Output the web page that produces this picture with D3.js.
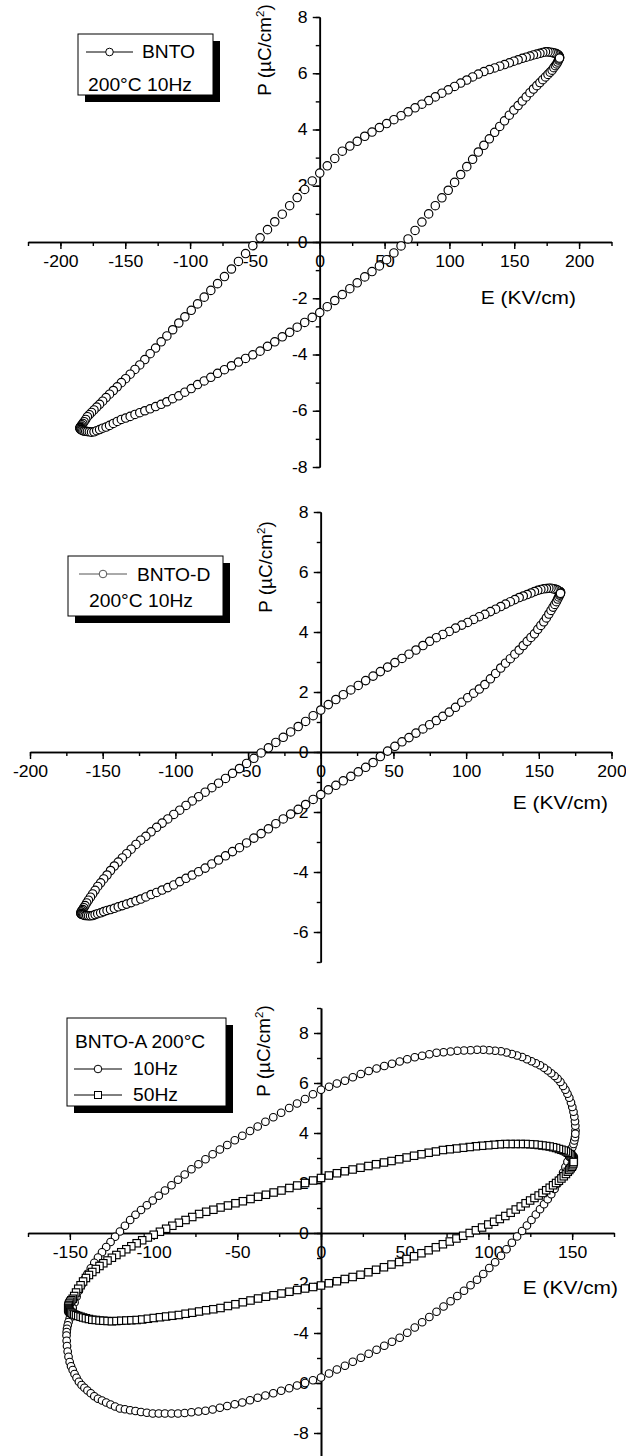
<!DOCTYPE html>
<html>
<head>
<meta charset="utf-8">
<script src="https://cdn.jsdelivr.net/npm/d3@7"></script>
<style>
  body { margin: 0; background: #fff; }
  text { font-family: "Liberation Sans", Arial, Helvetica, sans-serif; fill: #000; }
</style>
</head>
<body>
<svg id="chart" width="626" height="1456"></svg>
<script>
// ---- data (E in kV/cm, P in uC/cm2) ----
// panel 1: BNTO, 200C 10Hz
var bntoUpE = [185.0,184.9,184.6,184.2,183.5,182.7,181.7,180.5,179.2,177.7,176.0,174.1,172.0,169.8,167.4,164.8,162.1,159.2,156.2,153.0,
  149.7,146.2,142.5,138.8,134.9,130.8,126.6,122.3,117.9,113.4,108.7,104.0,99.1,94.2,89.1,84.0,78.8,73.5,68.1,62.7,
  57.2,51.6,46.0,40.3,34.7,28.9,23.2,17.4,11.6,5.8,0,-5.8,-11.6,-17.4,-23.2,-28.9,-34.7,-40.3,-46.0,-51.6,
  -57.2,-62.7,-68.1,-73.5,-78.8,-84.0,-89.1,-94.2,-99.1,-104.0,-108.7,-113.4,-117.9,-122.3,-126.6,-130.8,-134.9,-138.8,-142.5,-146.2,
  -149.7,-153.0,-156.2,-159.2,-162.1,-164.8,-167.4,-169.8,-172.0,-174.1,-176.0,-177.7,-179.2,-180.5,-181.7,-182.7,-183.5,-184.2,-184.6,-184.9];
var bntoUpP = [6.55,6.58,6.61,6.64,6.67,6.69,6.71,6.72,6.74,6.75,6.76,6.76,6.74,6.71,6.68,6.65,6.61,6.57,6.53,6.48,
  6.43,6.37,6.31,6.25,6.19,6.13,6.06,5.97,5.87,5.76,5.65,5.53,5.41,5.29,5.16,5.03,4.90,4.77,4.63,4.49,
  4.35,4.21,4.07,3.91,3.76,3.58,3.41,3.23,2.97,2.71,2.45,2.17,1.87,1.58,1.29,0.99,0.72,0.44,0.15,-0.13,
  -0.41,-0.69,-0.96,-1.23,-1.48,-1.72,-1.96,-2.20,-2.43,-2.66,-2.88,-3.12,-3.34,-3.55,-3.77,-3.97,-4.18,-4.37,-4.53,-4.70,
  -4.86,-5.00,-5.15,-5.28,-5.41,-5.53,-5.66,-5.77,-5.87,-5.97,-6.06,-6.14,-6.21,-6.31,-6.39,-6.45,-6.50,-6.55,-6.58,-6.60];
var bntoLoE = [-185.0,-184.9,-184.6,-184.2,-183.5,-182.7,-181.7,-180.5,-179.2,-177.7,-176.0,-174.1,-172.0,-169.8,-167.4,-164.8,-162.1,-159.2,-156.2,-153.0,
  -149.7,-146.2,-142.5,-138.8,-134.9,-130.8,-126.6,-122.3,-117.9,-113.4,-108.7,-104.0,-99.1,-94.2,-89.1,-84.0,-78.8,-73.5,-68.1,-62.7,
  -57.2,-51.6,-46.0,-40.3,-34.7,-28.9,-23.2,-17.4,-11.6,-5.8,0,5.8,11.6,17.4,23.2,28.9,34.7,40.3,46.0,51.6,
  57.2,62.7,68.1,73.5,78.8,84.0,89.1,94.2,99.1,104.0,108.7,113.4,117.9,122.3,126.6,130.8,134.9,138.8,142.5,146.2,
  149.7,153.0,156.2,159.2,162.1,164.8,167.4,169.8,172.0,174.1,176.0,177.7,179.2,180.5,181.7,182.7,183.5,184.2,184.6,184.9];
var bntoLoP = [-6.62,-6.63,-6.65,-6.67,-6.69,-6.71,-6.72,-6.73,-6.74,-6.75,-6.76,-6.75,-6.71,-6.67,-6.62,-6.58,-6.52,-6.45,-6.38,-6.31,
  -6.26,-6.20,-6.13,-6.07,-6.00,-5.93,-5.85,-5.77,-5.68,-5.57,-5.47,-5.34,-5.21,-5.07,-4.94,-4.81,-4.67,-4.54,-4.40,-4.27,
  -4.14,-4.01,-3.88,-3.71,-3.55,-3.37,-3.21,-3.03,-2.86,-2.68,-2.51,-2.30,-2.08,-1.87,-1.66,-1.45,-1.24,-1.05,-0.85,-0.63,
  -0.39,-0.14,0.11,0.41,0.71,1.00,1.29,1.57,1.84,2.12,2.40,2.68,2.94,3.20,3.44,3.67,3.90,4.11,4.31,4.51,
  4.69,4.85,5.01,5.16,5.31,5.44,5.56,5.67,5.77,5.87,5.96,6.04,6.11,6.20,6.27,6.33,6.40,6.47,6.51,6.54];

// panel 2: BNTO-D, 200C 10Hz
var bntoDUpE = [165.0,164.9,164.7,164.3,163.7,163.0,162.1,161.0,159.8,158.4,156.9,155.2,153.4,151.4,149.3,147.0,144.6,142.0,139.3,136.5,
  133.5,130.4,127.1,123.8,120.3,116.7,112.9,109.1,105.2,101.1,97.0,92.7,88.4,84.0,79.5,74.9,70.3,65.5,60.7,55.9,
  51.0,46.0,41.0,36.0,30.9,25.8,20.7,15.5,10.4,5.2,0,-5.2,-10.4,-15.5,-20.7,-25.8,-30.9,-36.0,-41.0,-46.0,
  -51.0,-55.9,-60.7,-65.5,-70.3,-74.9,-79.5,-84.0,-88.4,-92.7,-97.0,-101.1,-105.2,-109.1,-112.9,-116.7,-120.3,-123.8,-127.1,-130.4,
  -133.5,-136.5,-139.3,-142.0,-144.6,-147.0,-149.3,-151.4,-153.4,-155.2,-156.9,-158.4,-159.8,-161.0,-162.1,-163.0,-163.7,-164.3,-164.7,-164.9];
var bntoDUpP = [5.32,5.33,5.34,5.35,5.37,5.39,5.42,5.43,5.44,5.46,5.46,5.45,5.44,5.42,5.39,5.35,5.30,5.25,5.20,5.15,
  5.08,5.01,4.93,4.85,4.76,4.68,4.59,4.51,4.42,4.32,4.23,4.13,4.02,3.92,3.81,3.69,3.55,3.40,3.26,3.12,
  2.98,2.83,2.68,2.53,2.38,2.22,2.07,1.91,1.75,1.58,1.40,1.21,1.02,0.85,0.67,0.49,0.32,0.14,-0.03,-0.21,
  -0.38,-0.55,-0.71,-0.88,-1.04,-1.19,-1.34,-1.49,-1.63,-1.78,-1.94,-2.08,-2.23,-2.37,-2.51,-2.66,-2.81,-2.94,-3.08,-3.24,
  -3.39,-3.53,-3.67,-3.80,-3.95,-4.10,-4.23,-4.36,-4.48,-4.61,-4.73,-4.84,-4.94,-5.03,-5.12,-5.19,-5.25,-5.29,-5.33,-5.34];
var bntoDLoE = [-165.0,-164.9,-164.7,-164.3,-163.7,-163.0,-162.1,-161.0,-159.8,-158.4,-156.9,-155.2,-153.4,-151.4,-149.3,-147.0,-144.6,-142.0,-139.3,-136.5,
  -133.5,-130.4,-127.1,-123.8,-120.3,-116.7,-112.9,-109.1,-105.2,-101.1,-97.0,-92.7,-88.4,-84.0,-79.5,-74.9,-70.3,-65.5,-60.7,-55.9,
  -51.0,-46.0,-41.0,-36.0,-30.9,-25.8,-20.7,-15.5,-10.4,-5.2,0,5.2,10.4,15.5,20.7,25.8,30.9,36.0,41.0,46.0,
  51.0,55.9,60.7,65.5,70.3,74.9,79.5,84.0,88.4,92.7,97.0,101.1,105.2,109.1,112.9,116.7,120.3,123.8,127.1,130.4,
  133.5,136.5,139.3,142.0,144.6,147.0,149.3,151.4,153.4,155.2,156.9,158.4,159.8,161.0,162.1,163.0,163.7,164.3,164.7,164.9];
var bntoDLoP = [-5.38,-5.39,-5.40,-5.41,-5.42,-5.43,-5.45,-5.45,-5.46,-5.46,-5.45,-5.42,-5.39,-5.36,-5.32,-5.28,-5.25,-5.21,-5.16,-5.12,
  -5.07,-5.02,-4.96,-4.90,-4.83,-4.75,-4.68,-4.60,-4.52,-4.43,-4.32,-4.21,-4.10,-3.99,-3.87,-3.73,-3.60,-3.46,-3.32,-3.19,
  -3.03,-2.87,-2.72,-2.56,-2.39,-2.23,-2.07,-1.91,-1.75,-1.58,-1.42,-1.26,-1.11,-0.96,-0.81,-0.66,-0.51,-0.35,-0.15,0.03,
  0.19,0.34,0.48,0.63,0.77,0.91,1.05,1.19,1.33,1.49,1.66,1.81,1.96,2.10,2.25,2.44,2.62,2.80,2.96,3.11,
  3.26,3.40,3.55,3.69,3.82,3.94,4.09,4.22,4.34,4.47,4.60,4.72,4.83,4.92,5.01,5.10,5.17,5.23,5.27,5.29];

// panel 3: BNTO-A, 200C, 10Hz (circles) and 50Hz (squares)
var a10UpE = [152.0,151.9,151.7,151.3,150.8,150.1,149.3,148.3,147.2,146.0,144.6,143.0,141.3,139.5,137.5,135.4,133.2,130.8,128.3,125.7,
  123.0,120.1,117.1,114.0,110.8,107.5,104.0,100.5,96.9,93.2,89.3,85.4,81.4,77.4,73.2,69.0,64.7,60.4,56.0,51.5,
  47.0,42.4,37.8,33.2,28.5,23.8,19.0,14.3,9.5,4.8,0,-4.8,-9.5,-14.3,-19.0,-23.8,-28.5,-33.2,-37.8,-42.4,
  -47.0,-51.5,-56.0,-60.4,-64.7,-69.0,-73.2,-77.4,-81.4,-85.4,-89.3,-93.2,-96.9,-100.5,-104.0,-107.5,-110.8,-114.0,-117.1,-120.1,
  -123.0,-125.7,-128.3,-130.8,-133.2,-135.4,-137.5,-139.5,-141.3,-143.0,-144.6,-146.0,-147.2,-148.3,-149.3,-150.1,-150.8,-151.3,-151.7,-151.9];
var a10UpP = [4.10,4.29,4.47,4.66,4.85,5.04,5.22,5.41,5.57,5.73,5.88,6.04,6.17,6.28,6.39,6.50,6.61,6.71,6.79,6.87,
  6.95,7.04,7.10,7.16,7.22,7.27,7.29,7.31,7.33,7.33,7.31,7.30,7.29,7.26,7.23,7.21,7.15,7.09,7.03,6.95,
  6.86,6.77,6.68,6.58,6.48,6.36,6.23,6.09,5.98,5.85,5.73,5.55,5.36,5.18,5.00,4.81,4.63,4.45,4.26,4.08,
  3.89,3.71,3.52,3.34,3.15,2.95,2.75,2.55,2.34,2.13,1.91,1.70,1.49,1.30,1.11,0.92,0.73,0.52,0.29,0.06,
  -0.15,-0.36,-0.56,-0.77,-0.98,-1.19,-1.41,-1.63,-1.85,-2.08,-2.31,-2.55,-2.78,-3.00,-3.22,-3.42,-3.56,-3.69,-3.83,-3.96];
var a10LoE = [-152.0,-151.9,-151.7,-151.3,-150.8,-150.1,-149.3,-148.3,-147.2,-146.0,-144.6,-143.0,-141.3,-139.5,-137.5,-135.4,-133.2,-130.8,-128.3,-125.7,
  -123.0,-120.1,-117.1,-114.0,-110.8,-107.5,-104.0,-100.5,-96.9,-93.2,-89.3,-85.4,-81.4,-77.4,-73.2,-69.0,-64.7,-60.4,-56.0,-51.5,
  -47.0,-42.4,-37.8,-33.2,-28.5,-23.8,-19.0,-14.3,-9.5,-4.8,0,4.8,9.5,14.3,19.0,23.8,28.5,33.2,37.8,42.4,
  47.0,51.5,56.0,60.4,64.7,69.0,73.2,77.4,81.4,85.4,89.3,93.2,96.9,100.5,104.0,107.5,110.8,114.0,117.1,120.1,
  123.0,125.7,128.3,130.8,133.2,135.4,137.5,139.5,141.3,143.0,144.6,146.0,147.2,148.3,149.3,150.1,150.8,151.3,151.7,151.9];
var a10LoP = [-4.10,-4.31,-4.52,-4.74,-4.95,-5.16,-5.33,-5.48,-5.64,-5.79,-5.95,-6.08,-6.19,-6.30,-6.41,-6.53,-6.63,-6.70,-6.78,-6.86,
  -6.94,-7.02,-7.05,-7.09,-7.12,-7.16,-7.19,-7.22,-7.22,-7.22,-7.22,-7.22,-7.20,-7.17,-7.14,-7.11,-7.06,-6.99,-6.92,-6.85,
  -6.78,-6.69,-6.59,-6.50,-6.41,-6.31,-6.21,-6.10,-6.00,-5.89,-5.78,-5.62,-5.46,-5.31,-5.15,-4.99,-4.83,-4.67,-4.51,-4.35,
  -4.19,-3.99,-3.78,-3.57,-3.36,-3.15,-2.94,-2.73,-2.52,-2.31,-2.09,-1.87,-1.64,-1.40,-1.17,-0.91,-0.65,-0.39,-0.14,0.08,
  0.30,0.52,0.74,0.95,1.15,1.35,1.55,1.76,1.98,2.20,2.42,2.64,2.85,3.05,3.26,3.43,3.56,3.70,3.83,3.97];
var a50UpE = [151.0,150.9,150.7,150.3,149.8,149.1,148.3,147.4,146.3,145.0,143.6,142.1,140.4,138.6,136.6,134.5,132.3,130.0,127.5,124.9,
  122.2,119.3,116.3,113.3,110.1,106.8,103.4,99.9,96.2,92.5,88.8,84.9,80.9,76.9,72.8,68.6,64.3,60.0,55.6,51.1,
  46.7,42.1,37.6,32.9,28.3,23.6,18.9,14.2,9.5,4.7,0,-4.7,-9.5,-14.2,-18.9,-23.6,-28.3,-32.9,-37.6,-42.1,
  -46.7,-51.1,-55.6,-60.0,-64.3,-68.6,-72.8,-76.9,-80.9,-84.9,-88.8,-92.5,-96.2,-99.9,-103.4,-106.8,-110.1,-113.3,-116.3,-119.3,
  -122.2,-124.9,-127.5,-130.0,-132.3,-134.5,-136.6,-138.6,-140.4,-142.1,-143.6,-145.0,-146.3,-147.4,-148.3,-149.1,-149.8,-150.3,-150.7,-150.9];
var a50UpP = [2.90,2.94,2.98,3.02,3.06,3.11,3.16,3.21,3.26,3.30,3.33,3.36,3.40,3.43,3.46,3.48,3.50,3.52,3.54,3.55,
  3.56,3.56,3.56,3.56,3.56,3.55,3.53,3.51,3.49,3.47,3.44,3.41,3.38,3.35,3.32,3.26,3.21,3.15,3.09,3.02,
  2.95,2.88,2.82,2.75,2.68,2.61,2.54,2.47,2.39,2.30,2.20,2.10,2.00,1.90,1.80,1.70,1.62,1.53,1.45,1.36,
  1.27,1.19,1.10,1.02,0.93,0.85,0.76,0.64,0.52,0.41,0.29,0.17,0.05,-0.07,-0.18,-0.29,-0.41,-0.53,-0.65,-0.77,
  -0.88,-0.99,-1.10,-1.21,-1.32,-1.44,-1.56,-1.68,-1.80,-1.94,-2.09,-2.23,-2.38,-2.52,-2.63,-2.69,-2.75,-2.82,-2.88,-2.94];
var a50LoE = [-151.0,-150.9,-150.7,-150.3,-149.8,-149.1,-148.3,-147.4,-146.3,-145.0,-143.6,-142.1,-140.4,-138.6,-136.6,-134.5,-132.3,-130.0,-127.5,-124.9,
  -122.2,-119.3,-116.3,-113.3,-110.1,-106.8,-103.4,-99.9,-96.2,-92.5,-88.8,-84.9,-80.9,-76.9,-72.8,-68.6,-64.3,-60.0,-55.6,-51.1,
  -46.7,-42.1,-37.6,-32.9,-28.3,-23.6,-18.9,-14.2,-9.5,-4.7,0,4.7,9.5,14.2,18.9,23.6,28.3,32.9,37.6,42.1,
  46.7,51.1,55.6,60.0,64.3,68.6,72.8,76.9,80.9,84.9,88.8,92.5,96.2,99.9,103.4,106.8,110.1,113.3,116.3,119.3,
  122.2,124.9,127.5,130.0,132.3,134.5,136.6,138.6,140.4,142.1,143.6,145.0,146.3,147.4,148.3,149.1,149.8,150.3,150.7,150.9];
var a50LoP = [-3.00,-3.04,-3.08,-3.12,-3.16,-3.19,-3.23,-3.26,-3.29,-3.32,-3.35,-3.38,-3.41,-3.44,-3.47,-3.48,-3.50,-3.51,-3.52,-3.53,
  -3.52,-3.51,-3.50,-3.49,-3.48,-3.46,-3.43,-3.40,-3.37,-3.34,-3.31,-3.28,-3.23,-3.19,-3.14,-3.09,-3.05,-3.00,-2.92,-2.85,
  -2.77,-2.70,-2.62,-2.55,-2.49,-2.42,-2.35,-2.28,-2.22,-2.16,-2.10,-2.01,-1.93,-1.84,-1.76,-1.67,-1.57,-1.47,-1.37,-1.26,
  -1.16,-1.04,-0.93,-0.81,-0.69,-0.57,-0.45,-0.34,-0.22,-0.11,0.00,0.11,0.22,0.34,0.45,0.56,0.68,0.81,0.94,1.06,
  1.19,1.30,1.40,1.50,1.60,1.71,1.81,1.91,2.00,2.09,2.18,2.27,2.36,2.45,2.52,2.59,2.65,2.71,2.78,2.84];

// tick labels
var xLabels1 = [-200, -150, -100, -50, 0, 50, 100, 150, 200];
var yLabels1 = [-8, -6, -4, -2, 0, 2, 4, 6, 8];
var xLabels2 = [-200, -150, -100, -50, 0, 50, 100, 150, 200];
var yLabels2 = [-6, -4, -2, 0, 2, 4, 6, 8];
var xLabels3 = [-150, -100, -50, 0, 50, 100, 150];
var yLabels3 = [-8, -6, -4, -2, 0, 2, 4, 6, 8];

var svg = d3.select("#chart");
var SX = 1.1; // glyphs in the picture are a bit wider than Arial
var MARK_W = 1.15;

function addText(g, x, y, str, size, anchor) {
    return g.append("text")
        .attr("transform", "translate(" + x + "," + y + ") scale(" + SX + ",1)")
        .attr("font-size", size)
        .attr("text-anchor", anchor || "start")
        .text(str);
}

// plain hyphen for negatives, like the original
function fmt(d) { return String(d); }

function drawPanel(o) {
    var g = svg.append("g");
    var x = d3.scaleLinear().domain(o.xDom).range(o.xRange);
    var y = d3.scaleLinear().domain(o.yDom).range(o.yRange);
    var x0 = x(0), y0 = y(0);

    // minor ticks
    var xMinor = d3.range(o.xDom[0], o.xDom[1] + 1, 25);
    var yMinor = d3.range(o.yDom[0], o.yDom[1] + 0.5, 1);
    g.append("g").attr("transform", "translate(0," + y0 + ")")
        .call(d3.axisBottom(x).tickValues(xMinor).tickSize(4).tickSizeOuter(0).tickFormat(""));
    g.append("g").attr("transform", "translate(" + x0 + ",0)")
        .call(d3.axisLeft(y).tickValues(yMinor).tickSize(4).tickSizeOuter(0).tickFormat(""));

    // major ticks with labels
    var xa = g.append("g").attr("transform", "translate(0," + y0 + ")")
        .call(d3.axisBottom(x).tickValues(o.xLabels).tickSize(7).tickSizeOuter(0).tickPadding(7).tickFormat(fmt));
    var ya = g.append("g").attr("transform", "translate(" + x0 + ",0)")
        .call(d3.axisLeft(y).tickValues(o.yLabels).tickSize(7).tickSizeOuter(0).tickPadding(4).tickFormat(fmt));

    g.selectAll(".domain").attr("stroke", "#000").attr("stroke-width", 1.6);
    g.selectAll(".tick line").attr("stroke", "#000").attr("stroke-width", 1.4);
    g.selectAll("g").attr("font-family", null).attr("font-size", null);
    xa.selectAll("text").attr("font-size", 16).attr("fill", "#000")
        .attr("transform", "scale(" + SX + ",1)");
    ya.selectAll("text").attr("font-size", 16).attr("fill", "#000")
        .attr("transform", "scale(" + SX + ",1)");

    // axis titles
    var yt = g.append("text")
        .attr("transform", "translate(" + o.yTitle[0] + "," + o.yTitle[1] + ") rotate(-90) scale(1.05,1)")
        .attr("font-size", 18).attr("text-anchor", "middle");
    yt.append("tspan").text("P (\u00b5C/cm");
    yt.append("tspan").attr("font-size", 11).attr("dy", -7).text("2");
    yt.append("tspan").attr("dy", 7).text(")");
    addText(g, o.xTitle[0], o.xTitle[1], "E (KV/cm)", 19, "end");

    // data markers, drawn over the axes
    o.series.forEach(function(s) {
        var pts = d3.zip(s.e, s.p);
        if (s.shape === "square") {
            g.append("g").selectAll("rect").data(pts).join("rect")
                .attr("x", function(d) { return x(d[0]) - s.size / 2; })
                .attr("y", function(d) { return y(d[1]) - s.size / 2; })
                .attr("width", s.size).attr("height", s.size)
                .attr("fill", "#fff").attr("stroke", "#000").attr("stroke-width", MARK_W);
        } else {
            g.append("g").selectAll("circle").data(pts).join("circle")
                .attr("cx", function(d) { return x(d[0]); })
                .attr("cy", function(d) { return y(d[1]); })
                .attr("r", s.size)
                .attr("fill", "#fff").attr("stroke", "#000").attr("stroke-width", MARK_W);
        }
    });

    // legend box with drop shadow
    var L = o.legend;
    g.append("rect").attr("x", L.x + 7).attr("y", L.y + 7).attr("width", L.w).attr("height", L.h).attr("fill", "#000");
    g.append("rect").attr("x", L.x).attr("y", L.y).attr("width", L.w).attr("height", L.h)
        .attr("fill", "#fff").attr("stroke", "#000").attr("stroke-width", 1);
    L.rows.forEach(function(r) {
        if (r.shape) {
            g.append("line").attr("x1", r.lx1).attr("x2", r.lx2).attr("y1", r.ly).attr("y2", r.ly)
                .attr("stroke", r.lineColor || "#000").attr("stroke-width", 1);
            if (r.shape === "square") {
                g.append("rect").attr("x", (r.lx1 + r.lx2) / 2 - 3.5).attr("y", r.ly - 3.5)
                    .attr("width", 7).attr("height", 7)
                    .attr("fill", "#fff").attr("stroke", "#000").attr("stroke-width", 1);
            } else {
                g.append("circle").attr("cx", (r.lx1 + r.lx2) / 2).attr("cy", r.ly).attr("r", 3.8)
                    .attr("fill", "#fff").attr("stroke", r.lineColor || "#000").attr("stroke-width", 1);
            }
        }
        addText(g, r.tx, r.ty, r.text, 17.5);
    });
}

drawPanel({
    xDom: [-225, 225], xRange: [28, 611.5],
    yDom: [-8, 8], yRange: [467, 17],
    xLabels: xLabels1, yLabels: yLabels1,
    yTitle: [271, 50], xTitle: [576, 304],
    series: [{ e: bntoUpE.concat(bntoLoE), p: bntoUpP.concat(bntoLoP), shape: "circle", size: 4.2 }],
    legend: { x: 78, y: 34, w: 135, h: 61, rows: [
        { shape: "circle", lx1: 86, lx2: 133, ly: 52, tx: 142, ty: 58, text: "BNTO" },
        { tx: 88, ty: 91, text: "200\u00b0C 10Hz" }
    ] }
});

drawPanel({
    xDom: [-200, 200], xRange: [30, 611.5],
    yDom: [-7, 8], yRange: [962, 512],
    xLabels: xLabels2, yLabels: yLabels2,
    yTitle: [272, 567], xTitle: [608, 809],
    series: [{ e: bntoDUpE.concat(bntoDLoE), p: bntoDUpP.concat(bntoDLoP), shape: "circle", size: 4.2 }],
    legend: { x: 68, y: 556, w: 155, h: 60, rows: [
        { shape: "circle", lx1: 79, lx2: 127, ly: 574, lineColor: "#555", tx: 137, ty: 581, text: "BNTO-D" },
        { tx: 89, ty: 607, text: "200\u00b0C 10Hz" }
    ] }
});

drawPanel({
    xDom: [-175, 175], xRange: [28, 614],
    yDom: [-9, 9], yRange: [1458, 1008],
    xLabels: xLabels3, yLabels: yLabels3,
    yTitle: [270, 1051], xTitle: [618, 1294],
    series: [
        { e: a10UpE.concat(a10LoE), p: a10UpP.concat(a10LoP), shape: "circle", size: 3.8 },
        { e: a50UpE.concat(a50LoE), p: a50UpP.concat(a50LoP), shape: "square", size: 7.4 }
    ],
    legend: { x: 67, y: 1018, w: 159, h: 88, rows: [
        { tx: 75, ty: 1048, text: "BNTO-A 200\u00b0C" },
        { shape: "circle", lx1: 74, lx2: 122, ly: 1069, tx: 133, ty: 1075, text: "10Hz" },
        { shape: "square", lx1: 74, lx2: 122, ly: 1095, tx: 133, ty: 1101, text: "50Hz" }
    ] }
});
</script>
</body>
</html>
